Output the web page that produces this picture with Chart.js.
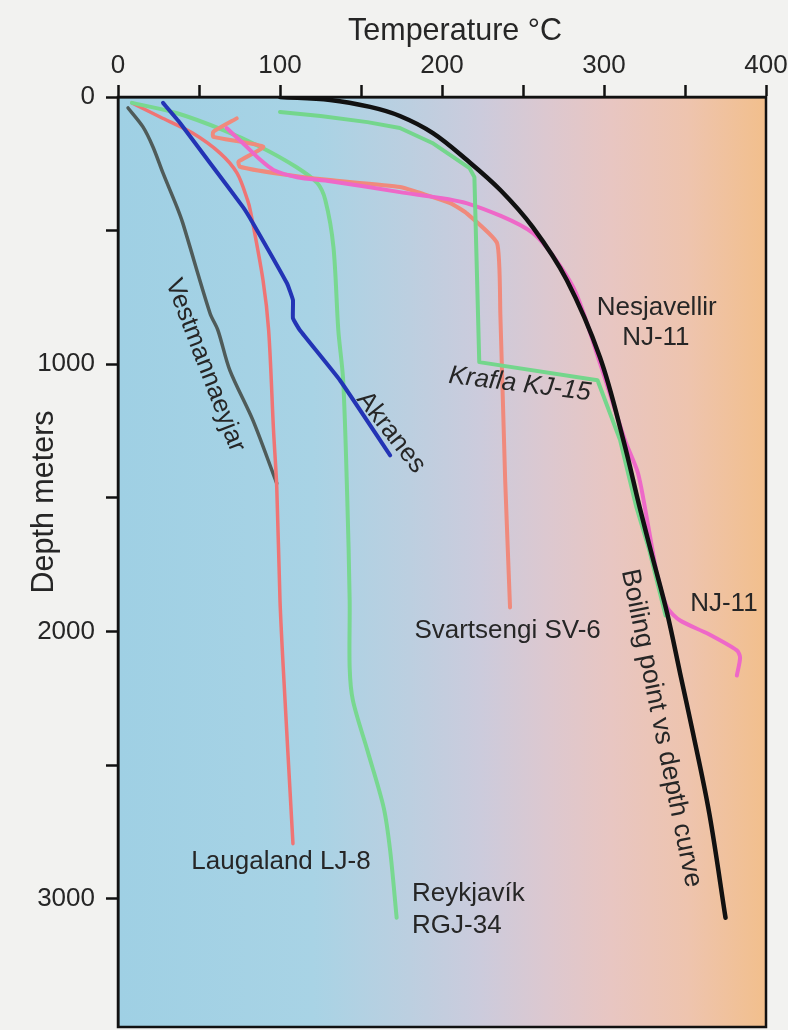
<!DOCTYPE html>
<html>
<head>
<meta charset="utf-8">
<script src="https://cdn.jsdelivr.net/npm/chart.js@4.4.0/dist/chart.umd.min.js"></script>
<style>
  html, body { margin: 0; padding: 0; background: #f2f2f0; }
  canvas { display: block; }
</style>
</head>
<body>
<canvas id="c" width="788" height="1030"></canvas>
<script>
// Temperature (°C) against depth (m) for Icelandic boreholes
const boilingTemp  = [100, 131, 155.6, 174, 194.4, 215.4, 236, 256, 277, 297.5, 312, 322, 330, 339, 347, 355, 365, 375];
const boilingDepth = [0, 11, 37, 71, 135, 236, 348, 487, 685, 974, 1285, 1535, 1723, 1932, 2157, 2382, 2681, 3071];

const kraflaTemp  = [100, 125, 154, 174, 194, 217, 220, 223, 296, 310, 320, 328, 338];
const kraflaDepth = [56, 71, 94, 116, 172, 266, 300, 992, 1060, 1285, 1535, 1697, 1940];

const nesjavellirTemp  = [67, 77, 88, 96, 110.5, 131, 174, 215, 256, 281, 297.5, 313, 321, 327, 332.7, 339, 347, 363.6, 382, 384, 382];
const nesjavellirDepth = [116, 172, 236, 273, 300, 315, 356, 397, 509, 712, 996, 1285, 1408, 1595, 1783, 1910, 1959, 2007, 2071, 2097, 2165];

const svartsengiTemp  = [73.3, 58.8, 58.8, 89.7, 74.3, 75.3, 98, 131, 174, 205, 215, 234, 236, 239, 242];
const svartsengiDepth = [80, 130, 149, 186, 242, 261, 286, 311, 337, 397, 434, 547, 809, 1434, 1910];

const reykjavikTemp  = [8.6, 36, 65, 88, 110, 123, 128, 133, 136, 139, 141.5, 143, 143, 145, 154, 164, 168, 172];
const reykjavikDepth = [22, 60, 124, 187, 262, 322, 386, 562, 873, 1060, 1498, 1884, 2135, 2258, 2446, 2659, 2820, 3071];

const laugalandTemp  = [8.6, 26, 46, 63, 73.5, 80, 82, 89.5, 93, 96, 98, 100, 102, 108];
const laugalandDepth = [22, 75, 135, 210, 285, 386, 434, 685, 873, 1247, 1461, 1884, 2135, 2794];

const akranesTemp  = [27.8, 38.3, 56.8, 77.2, 83.3, 104.3, 108, 108, 112.3, 137, 168];
const akranesDepth = [22, 97, 247, 412, 472, 697, 760, 828, 873, 1060, 1341];

const vestmannTemp  = [6.2, 15.4, 21.6, 27.8, 36.4, 40, 56.8, 61.7, 69, 83.3, 95.7, 98];
const vestmannDepth = [41, 112, 187, 285, 412, 472, 809, 873, 1022, 1210, 1408, 1446];

// Axis ticks
const tempTicks  = [0, 100, 200, 300, 400];
const depthTicks = [0, 1000, 2000, 3000];

// Curve labels placed in data coordinates
const labelTexts  = ['Nesjavellir', 'NJ-11', 'Krafla KJ-15', 'NJ-11', 'Svartsengi SV-6', 'Laugaland LJ-8', 'Reykjavík', 'RGJ-34', 'Vestmannaeyjar', 'Akranes', 'Boiling point vs depth curve'];
const labelTemps  = [332.5, 332, 248, 374, 240.5, 100.6, 181.5, 181.5, 53.7, 168.5, 335.3];
const labelDepths = [790, 903, 1075, 1895, 1996, 2861, 2981, 3101, 1004, 1255, 2362];
const labelAngles = [0, 0, 7, 0, 0, 0, 0, 0, 69, 52, 78.5];
const labelSizes  = [26, 26, 26, 26, 26, 26, 26, 26, 25.5, 26, 26.5];
const labelAlign  = ['center', 'center', 'center', 'center', 'center', 'center', 'left', 'left', 'center', 'center', 'center'];
const labelItalic = [false, false, true, false, false, false, false, false, false, false, false];

const FONT = "'Liberation Sans', Arial, Helvetica, sans-serif";
const TEXT = '#262626';

function pts(ts, ds) { return ts.map((t, i) => ({ x: t, y: ds[i] })); }

function line(label, ts, ds, color, width, tension) {
  return {
    label: label,
    data: pts(ts, ds),
    showLine: true,
    borderColor: color,
    borderWidth: width,
    pointRadius: 0,
    tension: tension,
    borderCapStyle: 'round',
    borderJoinStyle: 'round',
    fill: false
  };
}

const datasets = [
  line('Boiling point vs depth curve', boilingTemp, boilingDepth, '#111111', 4.5, 0.35),
  line('Krafla KJ-15', kraflaTemp, kraflaDepth, '#74d68c', 4, 0),
  line('Nesjavellir NJ-11', nesjavellirTemp, nesjavellirDepth, '#ee68c8', 4, 0.25),
  line('Svartsengi SV-6', svartsengiTemp, svartsengiDepth, '#f08a7c', 4, 0.15),
  line('Akranes', akranesTemp, akranesDepth, '#2334b5', 4, 0.1),
  line('Reykjavík RGJ-34', reykjavikTemp, reykjavikDepth, '#78d890', 4, 0.3),
  line('Laugaland LJ-8', laugalandTemp, laugalandDepth, '#ef7474', 3.5, 0.3),
  line('Vestmannaeyjar', vestmannTemp, vestmannDepth, '#4f5b59', 3.5, 0.3)
];

const decor = {
  id: 'decor',
  beforeDraw(chart) {
    const ctx = chart.ctx, a = chart.chartArea;
    ctx.save();
    ctx.fillStyle = '#f2f2f0';
    ctx.fillRect(0, 0, chart.width, chart.height);
    const g = ctx.createLinearGradient(a.left, 0, a.right, 0);
    g.addColorStop(0.00, '#9fd0e4');
    g.addColorStop(0.30, '#a8d3e5');
    g.addColorStop(0.45, '#bccfe0');
    g.addColorStop(0.56, '#cccbdc');
    g.addColorStop(0.66, '#dcc8d0');
    g.addColorStop(0.76, '#e8c6c2');
    g.addColorStop(0.88, '#eec4ae');
    g.addColorStop(1.00, '#f2bf8c');
    ctx.fillStyle = g;
    ctx.fillRect(a.left, a.top, a.right - a.left, a.bottom - a.top);
    ctx.restore();
  },
  afterDatasetsDraw(chart) {
    const ctx = chart.ctx;
    const xs = chart.scales.x, ys = chart.scales.y;
    ctx.save();
    ctx.fillStyle = TEXT;
    labelTexts.forEach((txt, i) => {
      const px = xs.getPixelForValue(labelTemps[i]);
      const py = ys.getPixelForValue(labelDepths[i]);
      ctx.save();
      ctx.translate(px, py);
      ctx.rotate(labelAngles[i] * Math.PI / 180);
      ctx.font = (labelItalic[i] ? 'italic ' : '') + labelSizes[i] + 'px ' + FONT;
      ctx.textAlign = labelAlign[i];
      ctx.textBaseline = 'middle';
      ctx.fillText(txt, 0, 0);
      ctx.restore();
    });
    ctx.restore();
  },
  afterDraw(chart) {
    const ctx = chart.ctx, a = chart.chartArea;
    ctx.save();
    ctx.strokeStyle = '#111';
    ctx.lineWidth = 2.5;
    ctx.strokeRect(a.left, a.top, a.right - a.left, a.bottom - a.top);
    // axis titles
    ctx.fillStyle = TEXT;
    ctx.font = '30.5px ' + FONT;
    ctx.textAlign = 'center';
    ctx.textBaseline = 'middle';
    ctx.fillText('Temperature °C', 455, 32);
    ctx.translate(45, 502);
    ctx.rotate(-Math.PI / 2);
    ctx.fillText('Depth meters', 0, 0);
    ctx.restore();
  }
};

new Chart(document.getElementById('c'), {
  type: 'scatter',
  data: { datasets },
  options: {
    responsive: false,
    devicePixelRatio: 1,
    animation: false,
    layout: { padding: { top: 0, left: 0, right: 22, bottom: 3 } },
    plugins: { legend: { display: false }, tooltip: { enabled: false } },
    scales: {
      x: {
        type: 'linear',
        position: 'top',
        min: 0, max: 400,
        afterBuildTicks(s) { s.ticks = [0, 50, 100, 150, 200, 250, 300, 350, 400].map(v => ({ value: v })); },
        afterFit(s) { s.height = 97; s.paddingLeft = 0; s.paddingRight = 0; },
        ticks: {
          autoSkip: false,
          maxRotation: 0,
          padding: 4,
          color: TEXT,
          font: { family: FONT, size: 26 },
          callback: v => tempTicks.includes(v) ? String(v) : ''
        },
        grid: { drawOnChartArea: false, drawTicks: true, tickLength: 12, tickColor: '#111', tickWidth: 2.5 },
        border: { display: true, color: '#111', width: 2.5 }
      },
      y: {
        type: 'linear',
        reverse: true,
        min: 0, max: 3480,
        afterBuildTicks(s) { s.ticks = [0, 500, 1000, 1500, 2000, 2500, 3000].map(v => ({ value: v })); },
        afterFit(s) { s.width = 118; s.paddingTop = 0; s.paddingBottom = 0; },
        ticks: {
          autoSkip: false,
          padding: 11,
          color: TEXT,
          font: { family: FONT, size: 26 },
          callback: v => depthTicks.includes(v) ? String(v) : ''
        },
        grid: { drawOnChartArea: false, drawTicks: true, tickLength: 12, tickColor: '#111', tickWidth: 2.5 },
        border: { display: true, color: '#111', width: 2.5 }
      }
    }
  },
  plugins: [decor]
});
</script>
</body>
</html>
